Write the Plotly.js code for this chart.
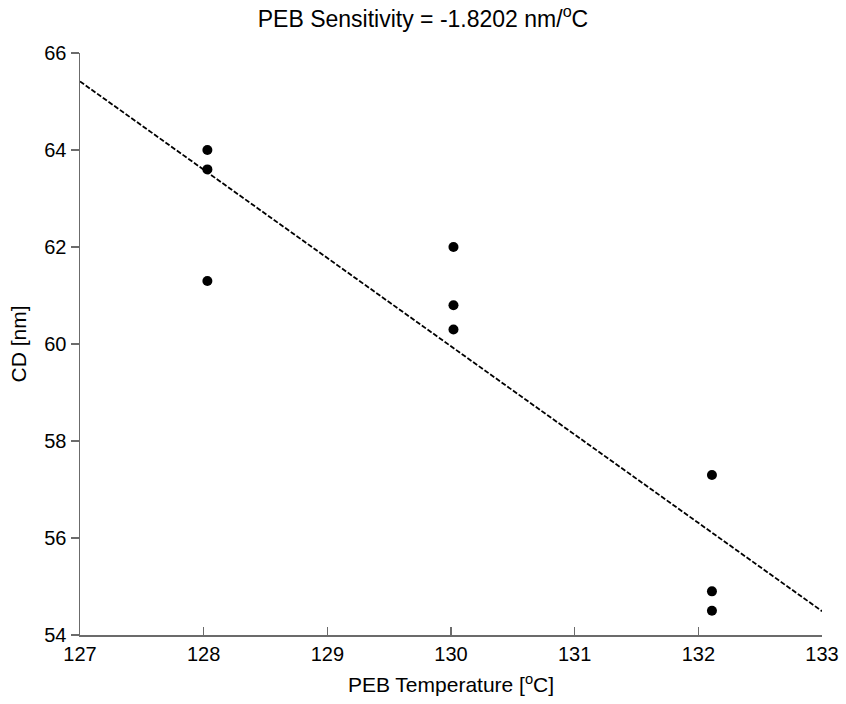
<!DOCTYPE html>
<html>
<head>
<meta charset="utf-8">
<script src="https://cdn.plot.ly/plotly-3.0.1.min.js"></script>
<style>html,body{margin:0;padding:0;background:#fff;}#chart{width:846px;height:704px;}</style>
</head>
<body>
<div id="chart"></div>
<script>
// Measured data (PEB temperature vs CD)
const tempC = [128.03, 128.03, 128.03, 130.02, 130.02, 130.02, 132.11, 132.11, 132.11];
const cdNm  = [64.0, 63.6, 61.3, 62.0, 60.8, 60.3, 57.3, 54.9, 54.5];
const xTicks = [127, 128, 129, 130, 131, 132, 133];
const yTicks = [54, 56, 58, 60, 62, 64, 66];
const xRange = [127, 133];
const yRange = [54, 66];

// Least-squares fit
const n = tempC.length;
const mx = tempC.reduce((a, b) => a + b, 0) / n;
const my = cdNm.reduce((a, b) => a + b, 0) / n;
let sxy = 0, sxx = 0;
for (let i = 0; i < n; i++) { sxy += (tempC[i] - mx) * (cdNm[i] - my); sxx += (tempC[i] - mx) ** 2; }
const slope = sxy / sxx;
const icpt = my - slope * mx;
const fitX = xRange.slice();
const fitY = fitX.map(x => icpt + slope * x);

const font = 'Liberation Sans, Arial, sans-serif';
const axisCol = '#6b6b6b';

const traces = [
  { x: fitX, y: fitY, mode: 'lines', type: 'scatter',
    line: { color: '#000', width: 1.8, dash: '5px,2px' }, hoverinfo: 'skip' },
  { x: tempC, y: cdNm, mode: 'markers', type: 'scatter',
    marker: { color: '#000', size: 10, symbol: 'circle' } }
];

const layout = {
  width: 846, height: 704,
  margin: { l: 80, r: 24, t: 53, b: 69 },
  paper_bgcolor: '#fff', plot_bgcolor: '#fff',
  showlegend: false,
  font: { family: font, color: '#000', size: 20 },
  title: { text: 'PEB Sensitivity = -1.8202 nm/<sup>o</sup>C', font: { family: font, size: 23, color: '#000' },
           x: 0.5, xanchor: 'center', y: 0.973, yanchor: 'middle' },
  xaxis: {
    range: xRange, tickvals: xTicks, ticktext: xTicks.map(String),
    showgrid: false, zeroline: false, showline: true, linecolor: axisCol, linewidth: 1.5,
    ticks: 'inside', ticklen: 8, tickcolor: axisCol, tickwidth: 1.2,
    tickfont: { family: font, size: 20, color: '#000' },
    title: { text: 'PEB Temperature [<sup>o</sup>C]', font: { family: font, size: 21, color: '#000' }, standoff: 14 },
    mirror: false
  },
  yaxis: {
    range: yRange, tickvals: yTicks, ticktext: yTicks.map(String),
    showgrid: false, zeroline: false, showline: true, linecolor: axisCol, linewidth: 1.5,
    ticks: 'outside', ticklen: 8, tickcolor: axisCol, tickwidth: 1.2,
    tickfont: { family: font, size: 20, color: '#000' },
    title: { text: 'CD [nm]', font: { family: font, size: 21, color: '#000' }, standoff: 12 },
    mirror: false
  }
};

Plotly.newPlot('chart', traces, layout, { displayModeBar: false, staticPlot: true });
</script>
</body>
</html>
